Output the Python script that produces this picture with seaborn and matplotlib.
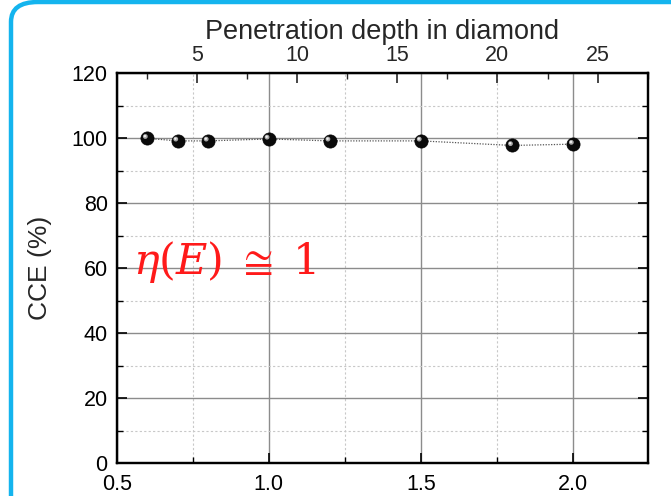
import numpy as np
import pandas as pd
import matplotlib
matplotlib.use("Agg")
import matplotlib.pyplot as plt
import seaborn as sns
from matplotlib.ticker import MultipleLocator
from matplotlib.patches import FancyBboxPatch
from matplotlib.transforms import offset_copy

# Data
energy = [0.6, 0.7, 0.8, 1.0, 1.2, 1.5, 1.8, 2.0]
cce = [100.0, 99.2, 99.2, 99.8, 99.2, 99.2, 97.8, 98.2]
x_ticks = [0.5, 1.0, 1.5, 2.0]
y_ticks = [0, 20, 40, 60, 80, 100, 120]
top_ticks = [5, 10, 15, 20, 25]

df = pd.DataFrame({"E": energy, "CCE": cce})

sns.set_theme(style="white")
plt.rcParams["font.family"] = ["Liberation Sans", "DejaVu Sans"]
plt.rcParams["mathtext.fontset"] = "dejavuserif"

W, H = 671, 496
fig = plt.figure(figsize=(W / 100, H / 100), dpi=100)
fig.patch.set_facecolor("white")

# blue rounded frame
frame = FancyBboxPatch((11 / W, -0.2), 1.2, 1.2 - 2 / H,
                       boxstyle="round,pad=0,rounding_size=0.04",
                       transform=fig.transFigure, fill=False,
                       edgecolor="#14B4EE", linewidth=3.2, zorder=0)
fig.patches.append(frame)

left, right, top, bottom = 116.7, 647.7, 73.3, 463.3
ax = fig.add_axes([left / W, 1 - bottom / H, (right - left) / W, (bottom - top) / H])

sns.lineplot(data=df, x="E", y="CCE", ax=ax, color="#555555", linestyle=(0, (1, 1.2)),
             linewidth=0.9, zorder=3)
sns.scatterplot(data=df, x="E", y="CCE", ax=ax, color="#0a0a0a", s=90,
                edgecolor="#000000", linewidth=0.5, zorder=4)
hl = offset_copy(ax.transData, fig=fig, x=-1.8, y=1.8, units="dots")
ax.scatter(df["E"], df["CCE"], s=12, color="#a8a8a8", edgecolor="none",
           transform=hl, zorder=5)
hl2 = offset_copy(ax.transData, fig=fig, x=-2.2, y=2.2, units="dots")
ax.scatter(df["E"], df["CCE"], s=3, color="#eeeeee", edgecolor="none",
           transform=hl2, zorder=6)

ax.set_xlim(0.5, 2.245)
ax.set_ylim(0, 120)
ax.set_xticks(x_ticks)
ax.set_xticklabels([f"{v:.1f}" for v in x_ticks])
ax.set_yticks(y_ticks)
ax.xaxis.set_minor_locator(MultipleLocator(0.25))
ax.yaxis.set_minor_locator(MultipleLocator(10))

ax.grid(which="major", color="#8c8c8c", linestyle="-", linewidth=1.0)
ax.grid(which="minor", color="#c8c8c8", linestyle=(0, (2, 2)), linewidth=0.8)
ax.set_axisbelow(True)

for s in ax.spines.values():
    s.set_visible(True)
    s.set_color("black")
    s.set_linewidth(1.6)

ax.tick_params(which="major", direction="in", length=7, width=1.2, colors="black",
               labelsize=15.5, top=False, right=True, left=True, bottom=True)
ax.tick_params(axis="x", which="major", pad=7.5)
ax.tick_params(axis="y", which="major", pad=6.5)
ax.tick_params(which="minor", direction="in", length=4, width=1.0, colors="black",
               top=False, right=True, left=True, bottom=True)
ax.set_xlabel("")
ax.set_ylabel("CCE (%)", fontsize=19, labelpad=14)

# top axis: penetration depth
ax2 = ax.twiny()
ax2.set_xlim(1.0, 27.5)
ax2.set_xticks(top_ticks)
ax2.xaxis.set_minor_locator(MultipleLocator(2.5))
ax2.tick_params(which="major", direction="in", length=7, width=1.2, labelsize=15.5, pad=5.5)
ax2.tick_params(which="minor", direction="in", length=4, width=1.0)
ax2.set_xlabel("Penetration depth in diamond", fontsize=19.5, labelpad=4)
ax2.grid(False)
for s in ax2.spines.values():
    s.set_linewidth(1.6)
    s.set_color("black")

ax.text(0.552, 62, r"$\eta(E)\;\cong\;1$", color="#ff1a1a", fontsize=31,
        ha="left", va="center", zorder=7)

fig.savefig("out.png", dpi=100)
